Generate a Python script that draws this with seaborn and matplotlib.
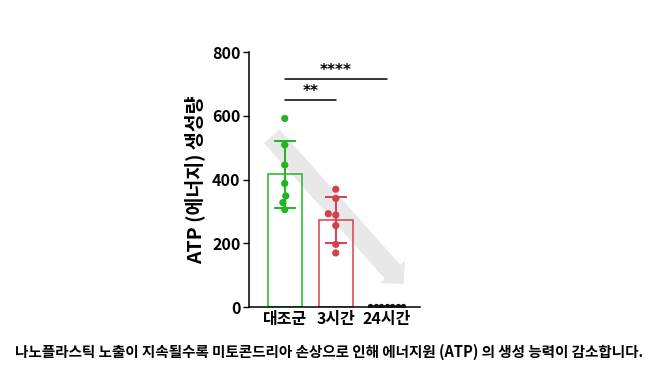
import matplotlib
matplotlib.use("Agg")
import matplotlib.pyplot as plt
import seaborn as sns
import pandas as pd
import numpy as np
from matplotlib.patches import FancyArrowPatch

sns.set_style("ticks", {"axes.edgecolor": "black", "text.color": "black",
                        "axes.labelcolor": "black", "xtick.color": "black",
                        "ytick.color": "black"})
plt.rcParams['font.family'] = ['Noto Sans CJK KR', 'DejaVu Sans']

categories = ["대조군", "3시간", "24시간"]
control = [592, 509, 446, 388, 349, 328, 306]
hour3 = [370, 341, 293, 289, 256, 197, 170]
hour24 = [5, 3, 4, 3, 4, 3, 4]
colors = ["#22b422", "#d6404c", "#111111"]
sig_pairs = [(0, 1, 650, "**"), (0, 2, 715, "****")]
ylabel = "ATP (에너지) 생성량"
caption = "나노플라스틱 노출이 지속될수록 미토콘드리아 손상으로 인해 에너지원 (ATP) 의 생성 능력이 감소합니다."

df = pd.DataFrame({
    "group": np.repeat(categories, [len(control), len(hour3), len(hour24)]),
    "value": control + hour3 + hour24,
})

fig = plt.figure(figsize=(6.58, 3.70), dpi=100)
ax = fig.add_axes([0.378, 0.170, 0.260, 0.689])

# background arrow (decoration, axes-fraction coords)
arr = FancyArrowPatch((0.135, 0.67), (0.905, 0.09), transform=ax.transAxes,
                      arrowstyle="simple,head_length=0.8,head_width=1.6,tail_width=1.0",
                      mutation_scale=15, color="#e8e8e8", lw=0, zorder=0,
                      shrinkA=0, shrinkB=0)
ax.add_patch(arr)

sns.barplot(data=df, x="group", y="value", hue="group", order=categories,
            palette=colors, errorbar=None, fill=False, width=0.66,
            linewidth=1.1, legend=False, ax=ax, zorder=2)

stats = df.groupby("group", sort=False)["value"].agg(["mean", "std"]).reindex(categories)
for i, c in enumerate(categories):
    if c == "24시간":
        continue
    ax.errorbar(i, stats.loc[c, "mean"], yerr=stats.loc[c, "std"], color=colors[i],
                capsize=8, elinewidth=1.4, capthick=1.4, zorder=3)

main = df[df["group"] != "24시간"]
sns.swarmplot(data=main, x="group", y="value", hue="group", order=categories,
              palette=colors, size=5.2, legend=False, ax=ax, zorder=4)
last = df[df["group"] == "24시간"]
sns.swarmplot(data=last, x="group", y="value", order=categories,
              color=colors[2], size=3.8, legend=False, ax=ax, zorder=4)

for a, b, y, s in sig_pairs:
    ax.plot([a, b], [y, y], color="black", lw=1.1)
    ax.text((a + b) / 2, y + 4, s, ha="center", va="bottom", fontsize=11,
            fontweight="bold", family="DejaVu Sans")

ax.set_ylim(0, 800)
ax.set_xlim(-0.706, 2.647)
ax.set_yticks([0, 200, 400, 600, 800])
ax.set_xlabel("")
ax.set_ylabel(ylabel, fontsize=14, fontweight="bold", labelpad=5)
ax.tick_params(axis="y", labelsize=11.5, length=4, width=1, pad=2)
ax.tick_params(axis="x", labelsize=11.5, length=0, pad=3)
for lab in ax.get_xticklabels() + ax.get_yticklabels():
    lab.set_fontweight("bold")
sns.despine(ax=ax)
ax.spines["left"].set_linewidth(1.1)
ax.spines["bottom"].set_linewidth(1.1)

fig.text(0.5, 0.048, caption, ha="center", va="center", fontsize=10.5,
         fontweight="bold")

fig.savefig("out.png", dpi=100)
